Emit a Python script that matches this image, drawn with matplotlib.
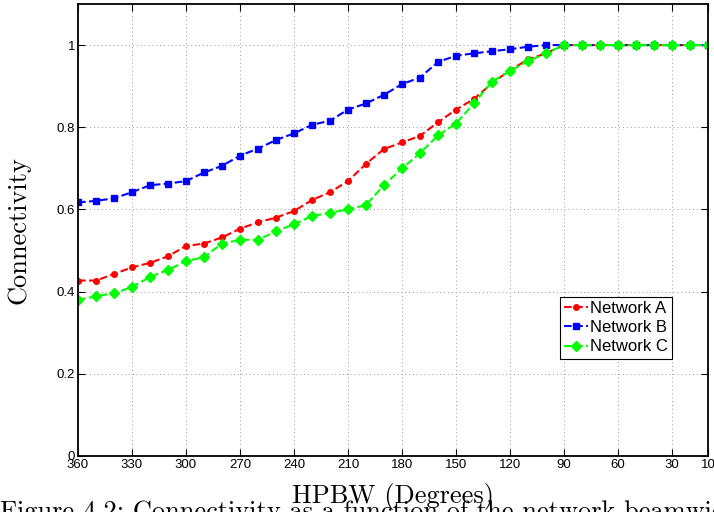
import numpy as np
import matplotlib
matplotlib.use('Agg')
import matplotlib.pyplot as plt

# HPBW in degrees, 360 down to 10
hpbw = list(range(360, 0, -10))

net_a = [0.427, 0.427, 0.443, 0.459, 0.470, 0.486, 0.511, 0.517, 0.532, 0.553,
         0.569, 0.580, 0.596, 0.623, 0.642, 0.669, 0.711, 0.747, 0.763, 0.779,
         0.812, 0.843, 0.869, 0.907, 0.939, 0.965, 0.980, 1.0, 1.0, 1.0,
         1.0, 1.0, 1.0, 1.0, 1.0, 1.0]
net_b = [0.617, 0.621, 0.627, 0.642, 0.659, 0.663, 0.669, 0.690, 0.706, 0.731,
         0.748, 0.769, 0.785, 0.806, 0.816, 0.843, 0.858, 0.879, 0.905, 0.921,
         0.959, 0.974, 0.980, 0.985, 0.990, 0.996, 1.0, 1.0, 1.0, 1.0,
         1.0, 1.0, 1.0, 1.0, 1.0, 1.0]
net_c = [0.380, 0.389, 0.396, 0.411, 0.436, 0.453, 0.474, 0.484, 0.517, 0.526,
         0.526, 0.547, 0.564, 0.584, 0.592, 0.600, 0.611, 0.659, 0.700, 0.737,
         0.780, 0.809, 0.858, 0.911, 0.937, 0.961, 0.980, 1.0, 1.0, 1.0,
         1.0, 1.0, 1.0, 1.0, 1.0, 1.0]

xticks = [360, 330, 300, 270, 240, 210, 180, 150, 120, 90, 60, 30, 10]
yticks = [0, 0.2, 0.4, 0.6, 0.8, 1]
ytick_labels = ['0', '0.2', '0.4', '0.6', '0.8', '1']

fig = plt.figure(figsize=(7.14, 5.12), dpi=100)
ax = fig.add_axes([78/714, 1 - 456/512, 630/714, 452/512])

ax.plot(hpbw, net_a, '--', color='red', lw=1.5, marker='o', ms=4, label='Network A')
ax.plot(hpbw, net_b, '--', color='blue', lw=1.5, marker='s', ms=4.5, label='Network B')
ax.plot(hpbw, net_c, '--', color='#00ff00', lw=1.5, marker='D', ms=5, label='Network C')

ax.set_xlim(360, 10)
ax.set_ylim(0, 1.1)
ax.set_xticks(xticks)
ax.set_xticklabels([str(t) for t in xticks], fontsize=9.5, family='Liberation Sans')
ax.set_yticks(yticks)
ax.set_yticklabels(ytick_labels, fontsize=9.5, family='Liberation Sans')
ax.tick_params(direction='in', top=True, right=True, length=5, width=0.8, pad=2)
ax.grid(True, linestyle=(0, (1, 3)), color='#999999', lw=0.7)
for s in ax.spines.values():
    s.set_linewidth(1.3)

ax.set_xlabel('HPBW (Degrees)', fontsize=19, family='cmr10')
ax.xaxis.set_label_coords(0.5, -0.060)
ax.set_ylabel('Connectivity', fontsize=19, family='cmr10')
ax.yaxis.set_label_coords(-0.075, 0.5)

# legend box roughly at x 560-673, y 297-362 px
leg = ax.legend(loc='upper left', bbox_to_anchor=(482/630, 1 - 293/452),
                prop={'family': 'Liberation Sans', 'size': 12},
                fancybox=False, edgecolor='black', framealpha=1,
                handlelength=1.4, handletextpad=0.15, borderpad=0.25, labelspacing=0.25,
                borderaxespad=0)
leg.get_frame().set_linewidth(0.8)

fig.text(0.0, 1 - 500/512, 'Figure 4.2: Connectivity as a function of the network beamwidth',
         fontsize=19, family='cmr10', va='top', ha='left')

fig.savefig('out.png', dpi=100, facecolor='white')
